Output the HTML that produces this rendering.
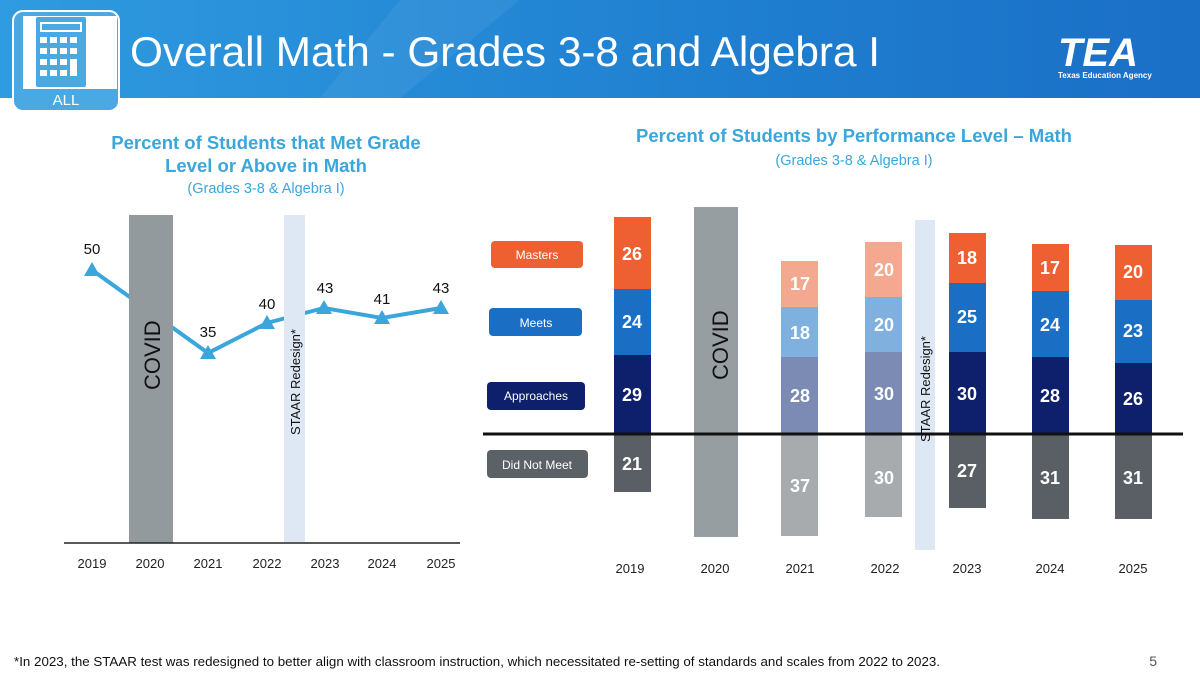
<!DOCTYPE html>
<html><head><meta charset="utf-8"><style>
body{margin:0;width:1200px;height:675px;overflow:hidden;background:#fff;font-family:"Liberation Sans",sans-serif}
</style></head><body>
<svg width="1200" height="675" xmlns="http://www.w3.org/2000/svg" font-family="Liberation Sans, sans-serif">
<defs>
<linearGradient id="hg" x1="0" y1="0" x2="1" y2="0"><stop offset="0" stop-color="#2f9be0"/><stop offset="0.6" stop-color="#1f7fd0"/><stop offset="1" stop-color="#1a6fc6"/></linearGradient>
</defs>
<rect x="0" y="0" width="1200" height="98" fill="url(#hg)"/>
<polygon points="320,98 400,0 520,0 400,98" fill="#ffffff" opacity="0.06"/>
<!-- icon -->
<rect x="13" y="11" width="106" height="100" rx="10" fill="#4aa8e2" stroke="#fff" stroke-width="2"/>
<rect x="23" y="16" width="94" height="73" fill="#fff"/>
<rect x="36" y="17" width="50" height="70" rx="2" fill="#4aa8e2"/>
<rect x="40" y="22" width="42" height="10" fill="#fff"/><rect x="42" y="24" width="38" height="6" fill="#4aa8e2"/>
<g fill="#fff">
<rect x="40" y="37" width="7" height="6"/><rect x="50" y="37" width="7" height="6"/><rect x="60" y="37" width="7" height="6"/><rect x="70" y="37" width="7" height="6"/>
<rect x="40" y="48" width="7" height="6"/><rect x="50" y="48" width="7" height="6"/><rect x="60" y="48" width="7" height="6"/><rect x="70" y="48" width="7" height="6"/>
<rect x="40" y="59" width="7" height="6"/><rect x="50" y="59" width="7" height="6"/><rect x="60" y="59" width="7" height="6"/><rect x="70" y="59" width="7" height="17"/>
<rect x="40" y="70" width="7" height="6"/><rect x="50" y="70" width="7" height="6"/><rect x="60" y="70" width="7" height="6"/>
</g>
<text x="66" y="105" fill="#fff" font-size="15" text-anchor="middle">ALL</text>
<text x="130" y="66" fill="#fff" font-size="42" textLength="750" lengthAdjust="spacingAndGlyphs">Overall Math - Grades 3-8 and Algebra I</text>
<text x="1058" y="66" fill="#fff" font-size="40" font-weight="bold" font-style="italic">TEA</text>
<text x="1058" y="78" fill="#fff" font-size="8" font-weight="bold">Texas Education Agency</text>

<!-- titles -->
<g fill="#3aa6dc" font-weight="bold" text-anchor="middle">
<text x="266" y="149" font-size="18.5">Percent of Students that Met Grade</text>
<text x="266" y="172" font-size="18.5">Level or Above in Math</text>
<text x="266" y="193" font-size="14.5" font-weight="normal">(Grades 3-8 &amp; Algebra I)</text>
<text x="854" y="142" font-size="18.5">Percent of Students by Performance Level – Math</text>
<text x="854" y="165" font-size="14.5" font-weight="normal">(Grades 3-8 &amp; Algebra I)</text>
</g>
<!-- left chart -->
<polyline points="92,270 208,353 267,323 324,308 382,318 441,308" fill="none" stroke="#3aa6dc" stroke-width="4"/>
<rect x="129" y="215" width="44" height="328" fill="#939a9e"/>
<rect x="284" y="215" width="21" height="327" fill="#dde8f4"/>
<text transform="translate(160,390) rotate(-90)" font-size="22" fill="#111">COVID</text>
<text transform="translate(300,435) rotate(-90)" font-size="13" fill="#111">STAAR Redesign*</text>
<g fill="#3aa6dc">
<polygon points="92,262 84,276 100,276"/><polygon points="208,345 200,359 216,359"/><polygon points="267,315 259,329 275,329"/>
<polygon points="324,300 316,314 332,314"/><polygon points="382,310 374,324 390,324"/><polygon points="441,300 433,314 449,314"/>
</g>
<g font-size="15" fill="#111" text-anchor="middle">
<text x="92" y="254">50</text><text x="208" y="337">35</text><text x="267" y="309">40</text>
<text x="325" y="293">43</text><text x="382" y="304">41</text><text x="441" y="293">43</text>
</g>
<line x1="64" y1="543" x2="460" y2="543" stroke="#222" stroke-width="1.5"/>
<g font-size="13" fill="#222" text-anchor="middle">
<text x="92" y="568">2019</text><text x="150" y="568">2020</text><text x="208" y="568">2021</text><text x="267" y="568">2022</text><text x="325" y="568">2023</text><text x="382" y="568">2024</text><text x="441" y="568">2025</text>
</g>

<!-- right chart -->
<g font-size="12" fill="#fff" text-anchor="middle">
<rect x="491" y="241" width="92" height="27" rx="4" fill="#ee5f32"/><text x="537" y="259">Masters</text>
<rect x="489" y="308" width="93" height="28" rx="4" fill="#1a6fc4"/><text x="536" y="327">Meets</text>
<rect x="487" y="382" width="98" height="28" rx="4" fill="#0e1f6b"/><text x="536" y="400">Approaches</text>
<rect x="487" y="450" width="101" height="28" rx="4" fill="#5a6167"/><text x="537" y="469">Did Not Meet</text>
</g>
<rect x="694" y="207" width="44" height="330" fill="#979ea2"/>
<rect x="915" y="220" width="20" height="330" fill="#dde8f4"/>
<g>
<rect x="614" y="217" width="37" height="72" fill="#ee5f32"/><rect x="614" y="289" width="37" height="66" fill="#1a6fc4"/><rect x="614" y="355" width="37" height="79" fill="#0e1f6b"/><rect x="614" y="434" width="37" height="58" fill="#595f65"/>
<rect x="781" y="261" width="37" height="46" fill="#f4a890"/><rect x="781" y="307" width="37" height="50" fill="#7fb0de"/><rect x="781" y="357" width="37" height="77" fill="#7b8bb3"/><rect x="781" y="434" width="37" height="102" fill="#a7abae"/>
<rect x="865" y="242" width="37" height="55" fill="#f4a890"/><rect x="865" y="297" width="37" height="55" fill="#7fb0de"/><rect x="865" y="352" width="37" height="82" fill="#7b8bb3"/><rect x="865" y="434" width="37" height="83" fill="#a7abae"/>
<rect x="949" y="233" width="37" height="50" fill="#ee5f32"/><rect x="949" y="283" width="37" height="69" fill="#1a6fc4"/><rect x="949" y="352" width="37" height="82" fill="#0e1f6b"/><rect x="949" y="434" width="37" height="74" fill="#595f65"/>
<rect x="1032" y="244" width="37" height="47" fill="#ee5f32"/><rect x="1032" y="291" width="37" height="66" fill="#1a6fc4"/><rect x="1032" y="357" width="37" height="77" fill="#0e1f6b"/><rect x="1032" y="434" width="37" height="85" fill="#595f65"/>
<rect x="1115" y="245" width="37" height="55" fill="#ee5f32"/><rect x="1115" y="300" width="37" height="63" fill="#1a6fc4"/><rect x="1115" y="363" width="37" height="71" fill="#0e1f6b"/><rect x="1115" y="434" width="37" height="85" fill="#595f65"/>
</g>
<line x1="483" y1="434" x2="1183" y2="434" stroke="#111" stroke-width="3"/>
<text transform="translate(728,380) rotate(-90)" font-size="22" fill="#111">COVID</text>
<text transform="translate(930,442) rotate(-90)" font-size="13" fill="#111">STAAR Redesign*</text>
<g font-size="18" font-weight="bold" fill="#fff" text-anchor="middle">
<text x="632" y="260">26</text><text x="632" y="328">24</text><text x="632" y="401">29</text><text x="632" y="470">21</text>
<text x="800" y="290">17</text><text x="800" y="339">18</text><text x="800" y="402">28</text><text x="800" y="492">37</text>
<text x="884" y="276">20</text><text x="884" y="331">20</text><text x="884" y="400">30</text><text x="884" y="484">30</text>
<text x="967" y="264">18</text><text x="967" y="323">25</text><text x="967" y="400">30</text><text x="967" y="477">27</text>
<text x="1050" y="274">17</text><text x="1050" y="331">24</text><text x="1050" y="402">28</text><text x="1050" y="484">31</text>
<text x="1133" y="278">20</text><text x="1133" y="337">23</text><text x="1133" y="405">26</text><text x="1133" y="484">31</text>
</g>
<g font-size="13" fill="#222" text-anchor="middle">
<text x="630" y="573">2019</text><text x="715" y="573">2020</text><text x="800" y="573">2021</text><text x="885" y="573">2022</text><text x="967" y="573">2023</text><text x="1050" y="573">2024</text><text x="1133" y="573">2025</text>
</g>
<text x="14" y="666" font-size="13" fill="#111" textLength="926" lengthAdjust="spacingAndGlyphs">*In 2023, the STAAR test was redesigned to better align with classroom instruction, which necessitated re-setting of standards and scales from 2022 to 2023.</text>
<text x="1157" y="666" font-size="14" fill="#555" text-anchor="end">5</text>
</svg>
</body></html>
